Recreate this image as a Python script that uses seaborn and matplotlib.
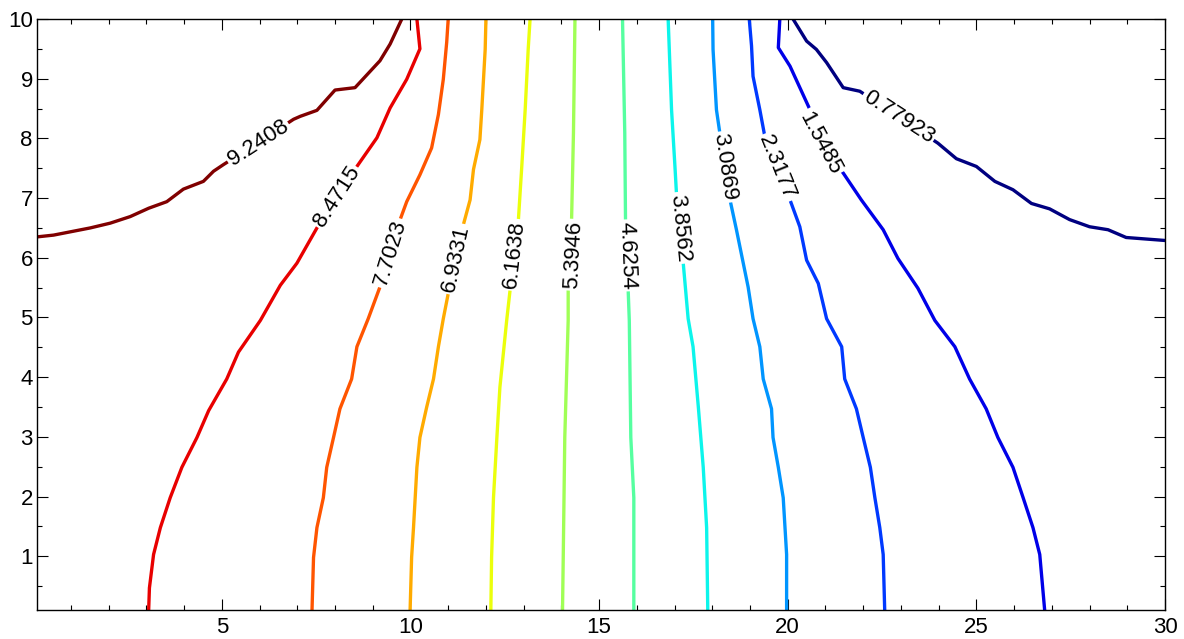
import numpy as np
import pandas as pd
import matplotlib
matplotlib.use("Agg")
import matplotlib.pyplot as plt
import seaborn as sns
from matplotlib.ticker import MultipleLocator

# contour levels (label text)
levels = ["0.77923", "1.5485", "2.3177", "3.0869", "3.8562", "4.6254",
          "5.3946", "6.1638", "6.9331", "7.7023", "8.4715", "9.2408"]

# contour paths (x, y)
x_l01 = [20.14, 20.50, 20.76, 21.03, 21.47, 21.91, 22.94, 23.98, 24.47, 25.00, 25.49, 25.97, 26.46, 26.94, 27.47, 28.00, 28.49, 28.97, 30.0]
y_l01 = [10.0, 9.63, 9.49, 9.27, 8.85, 8.79, 8.36, 7.92, 7.66, 7.53, 7.28, 7.14, 6.91, 6.82, 6.64, 6.52, 6.47, 6.34, 6.29]

x_l02 = [26.81, 26.68, 26.50, 26.24, 25.97, 25.57, 25.26, 24.82, 24.43, 23.90, 23.45, 22.92, 22.53, 21.95, 21.47, 20.85, 20.59, 20.06, 19.75, 19.79]
y_l02 = [0.1, 1.03, 1.48, 1.98, 2.49, 2.99, 3.47, 3.97, 4.51, 4.95, 5.49, 5.99, 6.47, 6.97, 7.42, 7.92, 8.48, 9.21, 9.52, 10.0]

x_l03 = [22.57, 22.53, 22.44, 22.31, 22.19, 22.00, 21.82, 21.51, 21.43, 21.03, 20.81, 20.50, 20.32, 20.06, 19.71, 19.39, 19.26, 19.08, 19.04, 18.98]
y_l03 = [0.1, 1.03, 1.48, 1.98, 2.49, 2.99, 3.47, 3.97, 4.51, 4.98, 5.57, 5.96, 6.52, 6.97, 7.51, 8.04, 8.48, 9.04, 9.55, 10.0]

x_l04 = [19.97, 19.97, 19.88, 19.75, 19.61, 19.57, 19.35, 19.26, 19.08, 18.95, 18.64, 18.47, 18.33, 18.20, 18.11, 18.02, 18.01]
y_l04 = [0.1, 1.03, 1.98, 2.49, 2.99, 3.47, 3.97, 4.51, 4.98, 5.51, 6.47, 6.97, 7.52, 8.09, 8.48, 9.49, 10.0]

x_l05 = [17.88, 17.85, 17.76, 17.63, 17.49, 17.36, 17.23, 17.14, 17.05, 17.01, 16.92, 16.83]
y_l05 = [0.1, 1.48, 2.49, 3.50, 4.51, 4.98, 5.91, 6.50, 7.08, 7.53, 8.48, 10.0]

x_l06 = [15.92, 15.92, 15.84, 15.80, 15.77, 15.74, 15.70, 15.68, 15.62]
y_l06 = [0.1, 1.98, 2.99, 4.95, 5.46, 6.04, 6.61, 8.09, 10.0]

x_l07 = [14.03, 14.05, 14.09, 14.18, 14.18, 14.31, 14.27, 14.32, 14.36]
y_l07 = [0.1, 1.03, 2.99, 4.95, 5.46, 6.05, 6.63, 8.09, 10.0]

x_l08 = [12.13, 12.15, 12.20, 12.29, 12.37, 12.55, 12.64, 12.75, 12.86, 12.95, 13.04, 13.12, 13.17]
y_l08 = [0.1, 0.98, 1.98, 2.99, 3.83, 4.95, 5.46, 6.05, 6.63, 7.53, 8.48, 9.49, 10.0]

x_l09 = [9.99, 10.03, 10.08, 10.17, 10.25, 10.43, 10.61, 10.74, 10.87, 11.00, 11.20, 11.40, 11.58, 11.67, 11.84, 11.89, 11.98, 12.00]
y_l09 = [0.1, 0.98, 1.48, 2.49, 2.99, 3.50, 3.97, 4.51, 4.98, 5.40, 5.98, 6.55, 6.97, 7.48, 7.98, 8.48, 9.49, 10.0]

x_l10 = [7.39, 7.43, 7.52, 7.69, 7.78, 7.96, 8.13, 8.44, 8.58, 8.88, 9.19, 9.46, 9.72, 9.90, 10.25, 10.56, 10.74, 10.87, 10.96, 11.00]
y_l10 = [0.1, 0.98, 1.48, 1.98, 2.49, 2.99, 3.47, 3.97, 4.51, 4.98, 5.51, 6.08, 6.63, 6.94, 7.39, 7.84, 8.40, 8.99, 9.61, 10.0]

x_l11 = [3.06, 3.08, 3.19, 3.37, 3.63, 3.94, 4.34, 4.65, 5.13, 5.44, 6.02, 6.55, 6.99, 7.52, 8.05, 8.58, 9.11, 9.46, 9.90, 10.25, 10.17]
y_l11 = [0.1, 0.47, 1.03, 1.48, 1.98, 2.49, 2.99, 3.44, 3.97, 4.42, 4.95, 5.54, 5.91, 6.50, 7.02, 7.53, 8.01, 8.51, 8.99, 9.50, 10.0]

x_l12 = [0.1, 0.54, 1.51, 2.04, 2.57, 3.06, 3.54, 3.98, 4.51, 4.78, 5.04, 5.96, 6.90, 7.08, 7.52, 8.00, 8.53, 9.19, 9.46, 9.77]
y_l12 = [6.35, 6.38, 6.50, 6.58, 6.69, 6.83, 6.94, 7.15, 7.28, 7.45, 7.56, 7.93, 8.32, 8.37, 8.47, 8.81, 8.85, 9.30, 9.58, 10.0]

# in-line label placement (x, y) and angle
label_x = [22.94, 20.85, 19.71, 18.33, 17.14, 15.74, 14.31, 12.75, 11.20, 9.46, 8.05, 5.96]
label_y = [8.36, 7.92, 7.51, 7.52, 6.50, 6.04, 6.05, 6.05, 5.98, 6.08, 7.02, 7.93]
label_rot = [-33, -62, -68, -81.5, -84.6, -88, 87, 83.5, 77.6, 73, 57, 33]

xs = [x_l01, x_l02, x_l03, x_l04, x_l05, x_l06, x_l07, x_l08, x_l09, x_l10, x_l11, x_l12]
ys = [y_l01, y_l02, y_l03, y_l04, y_l05, y_l06, y_l07, y_l08, y_l09, y_l10, y_l11, y_l12]

frames = []
for lev, xx, yy in zip(levels, xs, ys):
    frames.append(pd.DataFrame({"x": xx, "y": yy, "level": lev, "order": np.arange(len(xx))}))
df = pd.concat(frames, ignore_index=True)

colors = [matplotlib.colormaps["jet"](v) for v in np.linspace(0, 1, len(levels))]

sns.set_theme(style="white")
plt.rcParams["font.family"] = ["Liberation Sans", "DejaVu Sans"]

fig = plt.figure(figsize=(11.84, 6.39), dpi=100)
ax = fig.add_axes([37 / 1184, 1 - 610 / 639, (1165 - 37) / 1184, (610 - 19) / 639])

sns.lineplot(data=df, x="x", y="y", hue="level", hue_order=levels, palette=colors,
             units="level", estimator=None, sort=False, legend=False,
             linewidth=2.4, ax=ax)

for lev, lx, ly, rot in zip(levels, label_x, label_y, label_rot):
    ax.text(lx, ly, lev, rotation=rot, rotation_mode="anchor", ha="center", va="center",
            fontsize=16, color="black",
            bbox=dict(facecolor="white", edgecolor="none", pad=1.5))

ax.set_xlim(0.1, 30)
ax.set_ylim(0.1, 10)
ax.set_xlabel("")
ax.set_ylabel("")
ax.xaxis.set_major_locator(MultipleLocator(5))
ax.xaxis.set_minor_locator(MultipleLocator(1))
ax.yaxis.set_major_locator(MultipleLocator(1))
ax.yaxis.set_minor_locator(MultipleLocator(0.5))
ax.tick_params(which="both", direction="in", top=True, right=True, bottom=True, left=True,
               color="black", width=0.8, labelsize=16, labelcolor="black")
ax.tick_params(which="major", length=8)
ax.tick_params(which="minor", length=3.6)
ax.tick_params(axis="x", pad=5)
ax.tick_params(axis="y", pad=3)
for s in ax.spines.values():
    s.set_visible(True)
    s.set_color("black")
    s.set_linewidth(1.0)

fig.savefig("out.png", dpi=100, facecolor="white")
